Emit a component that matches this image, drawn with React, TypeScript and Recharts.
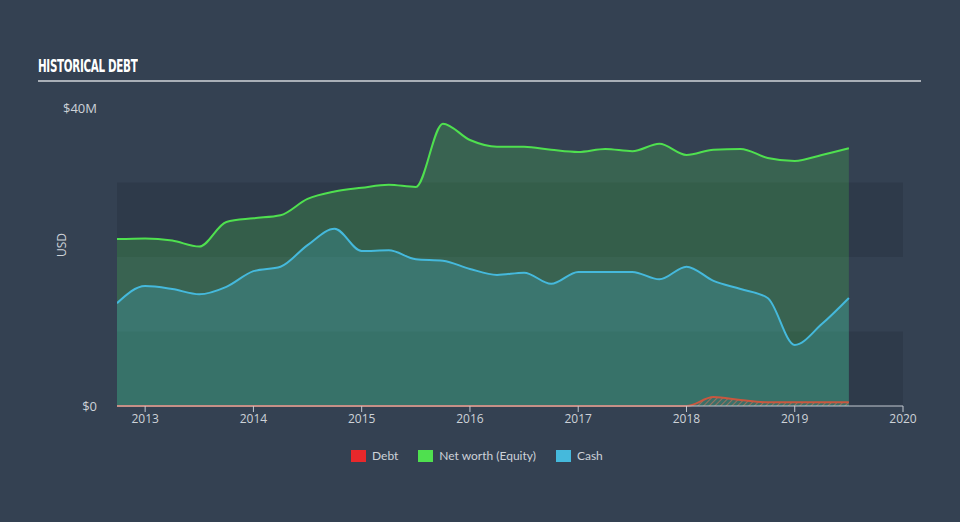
import React from 'react';
import { ComposedChart, Area, XAxis, YAxis, ReferenceArea } from 'recharts';

// Quarterly points, as fractional years
const dates = [
  2012.74, 2013.0, 2013.25, 2013.5, 2013.75, 2014.0, 2014.25, 2014.5, 2014.75,
  2015.0, 2015.25, 2015.5, 2015.75, 2016.0, 2016.25, 2016.5, 2016.75,
  2017.0, 2017.25, 2017.5, 2017.75, 2018.0, 2018.25, 2018.5, 2018.75,
  2019.0, 2019.25, 2019.5,
];

// values in $M
const equity = [
  22.4, 22.5, 22.2, 21.4, 24.7, 25.2, 25.6, 27.8, 28.8,
  29.3, 29.7, 29.4, 37.9, 35.7, 34.8, 34.8, 34.4,
  34.1, 34.5, 34.2, 35.2, 33.7, 34.4, 34.5, 33.3,
  32.9, 33.7, 34.6,
];

const cash = [
  13.8, 16.1, 15.7, 15.0, 16.0, 18.1, 18.7, 21.6, 23.8,
  20.8, 20.9, 19.7, 19.5, 18.4, 17.6, 17.9, 16.4,
  18.0, 18.0, 18.0, 17.0, 18.7, 16.8, 15.7, 14.5,
  8.2, 11.0, 14.5,
];

const debt = [
  0, 0, 0, 0, 0, 0, 0, 0, 0,
  0, 0, 0, 0, 0, 0, 0, 0,
  0, 0, 0, 0, 0, 1.2, 0.8, 0.5,
  0.5, 0.5, 0.5,
];

const yearTicks = [2013, 2014, 2015, 2016, 2017, 2018, 2019, 2020];
const yTicks = [0, 40];

const data = dates.map((t, i) => ({ t, equity: equity[i], cash: cash[i], debt: debt[i] }));

const BG = '#344152';
const BAND = '#2e3a4a';
const TEXT = '#cdd2d8';
const FONT = "'Open Sans', 'DejaVu Sans', sans-serif";

const legendItems = [
  { name: 'Debt', color: '#e8282b' },
  { name: 'Net worth (Equity)', color: '#4fe04f' },
  { name: 'Cash', color: '#45b9dc' },
];

export default function App() {
  return (
    <div style={{ position: 'absolute', left: 0, top: 0, width: 960, height: 522, background: BG, fontFamily: FONT }}>
      <div
        style={{
          position: 'absolute', left: 38, top: 55, color: '#ffffff', fontSize: 18, fontWeight: 'bold',
          fontFamily: "'DejaVu Sans Condensed', 'Liberation Sans Narrow', sans-serif", letterSpacing: -0.5,
          transform: 'scaleX(0.64)', transformOrigin: 'left', whiteSpace: 'nowrap',
        }}
      >
        HISTORICAL DEBT
      </div>
      <div style={{ position: 'absolute', left: 38, top: 80, width: 883, height: 2, background: '#a9afb7' }} />

      <ComposedChart
        width={960}
        height={522}
        data={data}
        margin={{ top: 108, right: 57, bottom: 86, left: 0 }}
        style={{ position: 'absolute', left: 0, top: 0 }}
      >
        <defs>
          <pattern id="hatch" width="4" height="4" patternUnits="userSpaceOnUse" patternTransform="rotate(45)">
            <rect width="4" height="4" fill="#3b6f68" />
            <line x1="0" y1="0" x2="0" y2="4" stroke="#b9735c" strokeWidth="1.5" />
          </pattern>
        </defs>
        <XAxis
          dataKey="t"
          type="number"
          domain={[2012.74, 2020]}
          ticks={yearTicks}
          allowDataOverflow
          height={30}
          stroke="#c3c9d0"
          tickLine={{ stroke: '#c3c9d0' }}
          tickSize={6}
          tick={{ fill: TEXT, fontSize: 12, fontFamily: FONT }}
        />
        <YAxis
          type="number"
          domain={[0, 40]}
          ticks={yTicks}
          width={117}
          axisLine={false}
          tickLine={false}
          tickMargin={14}
          tickFormatter={(v: number) => (v === 0 ? '$0' : `$${v}M`)}
          tick={{ fill: TEXT, fontSize: 13, fontFamily: FONT }}
          label={{ value: 'USD', angle: -90, position: 'insideLeft', offset: 62, fill: TEXT, fontSize: 12, fontFamily: FONT }}
        />
        <ReferenceArea y1={0} y2={10} fill={BAND} fillOpacity={1} stroke="none" ifOverflow="hidden" />
        <ReferenceArea y1={20} y2={30} fill={BAND} fillOpacity={1} stroke="none" ifOverflow="hidden" />
        <Area
          type="monotone"
          dataKey="equity"
          stroke="#4fe04f"
          strokeWidth={2}
          fill="#4fe04f"
          fillOpacity={0.22}
          isAnimationActive={false}
          dot={false}
          activeDot={false}
        />
        <Area
          type="monotone"
          dataKey="cash"
          stroke="#45b9dc"
          strokeWidth={2}
          fill="#45b9dc"
          fillOpacity={0.22}
          isAnimationActive={false}
          dot={false}
          activeDot={false}
        />
        <Area
          type="monotone"
          dataKey="debt"
          stroke="#c9573f"
          strokeWidth={2}
          fill="url(#hatch)"
          fillOpacity={1}
          isAnimationActive={false}
          dot={false}
          activeDot={false}
        />
      </ComposedChart>

      <div style={{ position: 'absolute', left: 351, top: 448, display: 'flex', alignItems: 'center', fontSize: 12, color: TEXT, fontFamily: "Lato, 'Open Sans', sans-serif" }}>
        {legendItems.map((item) => (
          <div key={item.name} style={{ display: 'flex', alignItems: 'center', marginRight: 20 }}>
            <div style={{ width: 15, height: 12, background: item.color, marginRight: 6 }} />
            <span>{item.name}</span>
          </div>
        ))}
      </div>
    </div>
  );
}
